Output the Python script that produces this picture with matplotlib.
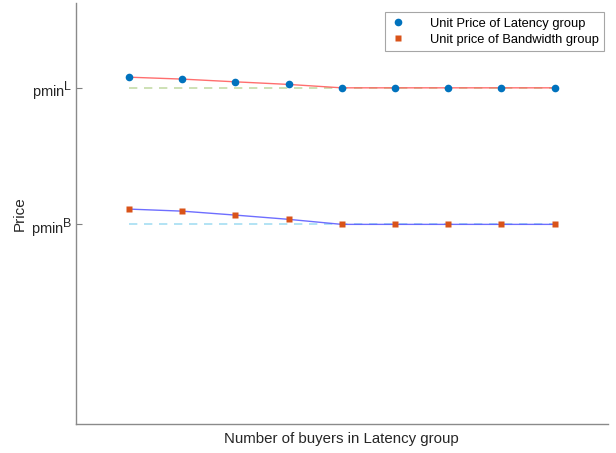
import matplotlib
matplotlib.use("Agg")
import matplotlib.pyplot as plt
from matplotlib import _mathtext

plt.rcParams['font.family'] = ['Liberation Sans', 'DejaVu Sans']
plt.rcParams['mathtext.fontset'] = 'custom'
plt.rcParams['mathtext.rm'] = 'Liberation Sans'
# larger superscripts for the tick labels
_mathtext.SHRINK_FACTOR = 0.85

# Number of buyers in the latency group (unlabelled steps)
buyers = [1, 2, 3, 4, 5, 6, 7, 8, 9]
# Reserve prices
pmin_L = 2.0
pmin_B = 1.0
# Unit prices of each group
price_latency = [2.078, 2.064, 2.044, 2.025, 2.0, 2.0, 2.0, 2.0, 2.0]
price_bandwidth = [1.112, 1.097, 1.068, 1.037, 1.0, 1.0, 1.0, 1.0, 1.0]
ytick_labels = [r'pmin$^{\mathrm{B}}$', r'pmin$^{\mathrm{L}}$']

fig = plt.figure(figsize=(6.16, 4.53), dpi=100)
ax = fig.add_axes([0.1226, 0.064, 0.8644, 0.929])

# reserve price reference lines
ax.plot([buyers[0], buyers[-1]], [pmin_L, pmin_L], ls=(0, (5, 4)), color='#c5dca8', lw=1.2, zorder=1)
ax.plot([buyers[0], buyers[-1]], [pmin_B, pmin_B], ls=(0, (5, 4)), color='#a6def2', lw=1.2, zorder=1)

# connecting lines
ax.plot(buyers, price_latency, color='#ff5555', lw=1.0, alpha=0.85, zorder=2)
ax.plot(buyers, price_bandwidth, color='#5555ff', lw=1.0, alpha=0.85, zorder=2)

# markers
ax.plot(buyers, price_latency, 'o', color='#0072BD', ms=5.5, mec='none', zorder=3,
        label='Unit Price of Latency group')
ax.plot(buyers, price_bandwidth, 's', color='#D95319', ms=4.8, mec='none', zorder=3,
        label='Unit price of Bandwidth group')

ax.set_xlim(0, 10)
ax.set_ylim(-0.462, 2.62)
ax.set_xticks([])
ax.set_yticks([pmin_B, pmin_L])
ax.set_yticklabels(ytick_labels, fontsize=10.5, color='#262626')
ax.tick_params(axis='y', direction='in', length=4, width=0.8, color='#808080', pad=2)

for side in ['top', 'right']:
    ax.spines[side].set_visible(False)
for side in ['left', 'bottom']:
    ax.spines[side].set_color('#8a8a8a')
    ax.spines[side].set_linewidth(1.0)

ax.set_xlabel('Number of buyers in Latency group', fontsize=10.8, color='#262626', labelpad=6)
ax.set_ylabel('Price', fontsize=11, color='#262626', labelpad=3)

leg = ax.legend(loc='upper right', bbox_to_anchor=(0.998, 0.985), fontsize=9.3,
                frameon=True, fancybox=False, edgecolor='#909090', handlelength=1.2,
                handletextpad=1.9, borderpad=0.42, labelspacing=0.32, borderaxespad=0.2)
leg.get_frame().set_linewidth(0.8)

fig.savefig('out.png', dpi=100)
